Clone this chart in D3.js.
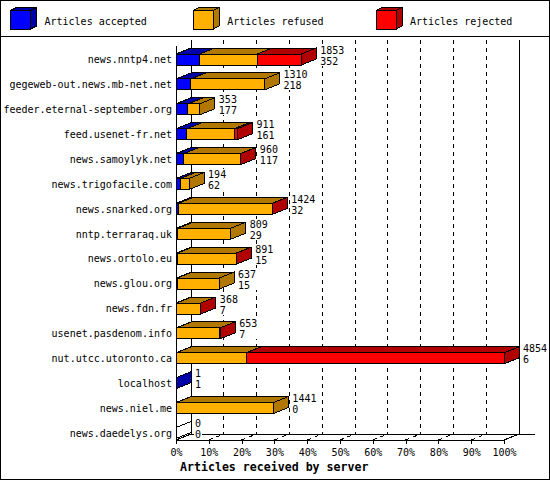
<!DOCTYPE html>
<html>
<head>
<meta charset="utf-8">
<script src="https://cdn.jsdelivr.net/npm/d3@7"></script>
<style>
    body { margin: 0; background: #fff; }
    svg { display: block; }
    text { font-family: "DejaVu Sans Mono", monospace; font-size: 10px; fill: #000; }
</style>
</head>
<body>
<div id="chart"></div>
<script>
// data
const servers = [
    "news.nntp4.net", "gegeweb-out.news.mb-net.net", "feeder.eternal-september.org",
    "feed.usenet-fr.net", "news.samoylyk.net", "news.trigofacile.com", "news.snarked.org",
    "nntp.terraraq.uk", "news.ortolo.eu", "news.glou.org", "news.fdn.fr",
    "usenet.pasdenom.info", "nut.utcc.utoronto.ca", "localhost", "news.niel.me",
    "news.daedelys.org"
];
const totals   = [1853, 1310, 353, 911, 960, 194, 1424, 809, 891, 637, 368, 653, 4854, 1, 1441, 0];
const accepted = [352, 218, 177, 161, 117, 62, 32, 29, 15, 15, 7, 7, 6, 1, 0, 0];
const refused  = [850, 1092, 176, 700, 838, 132, 1389, 780, 873, 622, 358, 643, 1030, 0, 1441, 0];
const rejected = [651, 0, 0, 50, 5, 0, 3, 0, 3, 0, 3, 3, 3818, 0, 0, 0];
const pctTicks = [0, 10, 20, 30, 40, 50, 60, 70, 80, 90, 100];
const seriesKeys = ["accepted", "refused", "rejected"];
const seriesLabels = ["Articles accepted", "Articles refused", "Articles rejected"];

const colors = {
    accepted: { face: "#0000ff", dark: "#0000a8" },
    refused:  { face: "#ffb000", dark: "#b07800" },
    rejected: { face: "#ff0000", dark: "#b00000" }
};

const width = 550, height = 480;
const depthX = 15, depthY = 6;
const barHalf = 5.5;
const left = 176, right = 504, floorY = 440, wallTop = 40;
const charW = 6.02;

const svg = d3.select("#chart")
    .append("svg")
        .attr("width", width)
        .attr("height", height)
        .style("shape-rendering", "crispEdges");

// frame + legend separator
svg.append("rect")
    .attr("x", 0.5).attr("y", 0.5)
    .attr("width", width - 1).attr("height", height - 1)
    .attr("fill", "#fff").attr("stroke", "#000");
svg.append("line")
    .attr("x1", 0).attr("x2", width)
    .attr("y1", 36).attr("y2", 36)
    .attr("stroke", "#000");

// legend cubes
const legend = svg.selectAll(".legend")
    .data(seriesKeys)
    .join("g")
        .attr("class", "legend")
        .attr("transform", (d, i) => `translate(${10.5 + i * 182.75}, 10.5)`);

legend.append("polygon")
    .attr("points", "20,0 26,-3 26,15.5 20,18.5")
    .attr("fill", d => colors[d].dark)
    .attr("stroke", "#000");
legend.append("polygon")
    .attr("points", "0,0 6,-3 26,-3 20,0")
    .attr("fill", d => colors[d].dark)
    .attr("stroke", "#000");
legend.append("rect")
    .attr("width", 20).attr("height", 18.5)
    .attr("fill", d => colors[d].face)
    .attr("stroke", "#000");
legend.append("text")
    .attr("x", 34)
    .attr("y", 10.5)
    .attr("dy", "0.35em")
    .text((d, i) => seriesLabels[i]);

// scales
const xScale = d3.scaleLinear()
    .domain([0, d3.max(totals)])
    .range([left, right]);

const xPct = d3.scaleLinear()
    .domain([0, 100])
    .range([left, right]);

const yScale = d3.scalePoint()
    .domain(servers)
    .range([59.5, 433]);

// back walls and floor
const walls = svg.append("g").attr("stroke", "#000").attr("fill", "none");
walls.append("line").attr("x1", left + depthX).attr("x2", left + depthX)
    .attr("y1", wallTop).attr("y2", floorY - depthY);
walls.append("line").attr("x1", right + depthX).attr("x2", right + depthX)
    .attr("y1", wallTop).attr("y2", floorY - depthY);
walls.append("line").attr("x1", left + depthX).attr("x2", right + depthX + 16)
    .attr("y1", floorY - depthY).attr("y2", floorY - depthY);
walls.append("line").attr("x1", left).attr("x2", left + depthX)
    .attr("y1", floorY).attr("y2", floorY - depthY);
walls.append("line").attr("x1", right).attr("x2", right + depthX)
    .attr("y1", floorY).attr("y2", floorY - depthY);
walls.append("line").attr("x1", left).attr("x2", left)
    .attr("y1", wallTop + depthY).attr("y2", floorY);

// dashed grid on back wall and floor
const grid = svg.append("g")
    .attr("stroke", "#000")
    .attr("stroke-dasharray", "4,4");
grid.selectAll(".gv")
    .data(pctTicks.slice(1, -1))
    .join("line")
        .attr("class", "gv")
        .attr("x1", d => xPct(d) + depthX).attr("x2", d => xPct(d) + depthX)
        .attr("y1", wallTop).attr("y2", floorY - depthY);
grid.selectAll(".gd")
    .data(pctTicks.slice(1, -1))
    .join("line")
        .attr("class", "gd")
        .attr("x1", d => xPct(d)).attr("x2", d => xPct(d) + depthX)
        .attr("y1", floorY).attr("y2", floorY - depthY);

// bottom axis
const xAxis = svg.append("g")
    .attr("transform", `translate(0, ${floorY})`)
    .call(d3.axisBottom(xPct)
        .tickValues(pctTicks)
        .tickFormat(d => d + "%")
        .tickSize(4)
        .tickPadding(5));
xAxis.select(".domain").attr("d", `M${left},0.5H${right}`);

// server labels
const yAxis = svg.append("g")
    .attr("transform", `translate(${left}, 0)`)
    .call(d3.axisLeft(yScale).tickSize(0).tickPadding(4));
yAxis.select(".domain").remove();

// stacked 3D bars
const rows = servers.map((s, i) => ({
    server: s,
    total: totals[i],
    accepted: accepted[i],
    refused: refused[i],
    rejected: rejected[i]
}));
const stacked = d3.stack().keys(seriesKeys)(rows);

const bars = svg.append("g").attr("stroke", "#000");

rows.forEach((row, i) => {
    const rc = yScale(row.server);
    const top = rc - barHalf, bottom = rc + barHalf;
    const g = bars.append("g");

    stacked.forEach(layer => {
        const [s0, s1] = layer[i];
        if (s1 <= s0) return;
        const xa = xScale(s0), xb = xScale(s1);
        g.append("polygon")
            .attr("points", `${xa},${top} ${xa + depthX},${top - depthY} ${xb + depthX},${top - depthY} ${xb},${top}`)
            .attr("fill", colors[layer.key].dark);
        g.append("rect")
            .attr("x", xa).attr("y", top)
            .attr("width", xb - xa).attr("height", bottom - top)
            .attr("fill", colors[layer.key].face);
    });

    // side face takes the colour of the last non-empty segment
    const lastKey = seriesKeys.filter(k => row[k] > 0).pop();
    const xe = xScale(row.total);
    g.append("polygon")
        .attr("points", `${xe},${top} ${xe + depthX},${top - depthY} ${xe + depthX},${bottom - depthY} ${xe},${bottom}`)
        .attr("fill", lastKey ? colors[lastKey].dark : "none");
    if (!lastKey) {
        g.append("line")
            .attr("x1", xe).attr("x2", xe)
            .attr("y1", top).attr("y2", bottom);
    }

    // value labels sit on a white patch, hiding the grid behind them
    const lx = xe + depthX + 4;
    const labelW = Math.max(String(row.total).length, String(row.accepted).length) * charW;
    g.append("rect")
        .attr("stroke", "none")
        .attr("fill", "#fff")
        .attr("x", lx - 1).attr("y", rc - 15)
        .attr("width", labelW + 2).attr("height", 21);
    g.append("text")
        .attr("stroke", "none")
        .attr("x", lx)
        .attr("y", rc - 9.5)
        .attr("dy", "0.35em")
        .text(row.total);
    g.append("text")
        .attr("stroke", "none")
        .attr("x", lx)
        .attr("y", rc + 1.5)
        .attr("dy", "0.35em")
        .text(row.accepted);
});

// axis title
svg.append("text")
    .attr("x", 180)
    .attr("y", 466.5)
    .attr("dy", "0.35em")
    .style("font-weight", "bold")
    .style("font-size", "11.6px")
    .text("Articles received by server");
</script>
</body>
</html>
